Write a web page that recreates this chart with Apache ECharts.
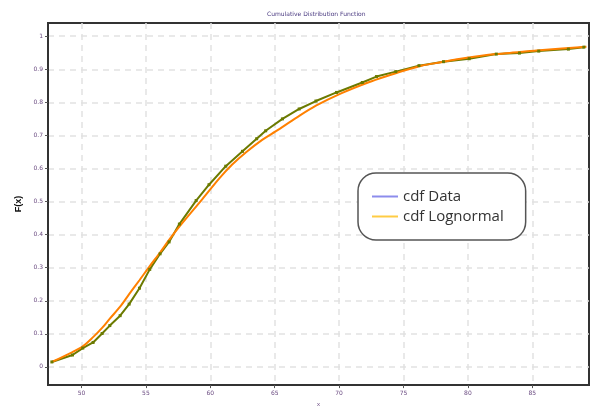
<!DOCTYPE html>
<html>
<head>
<meta charset="utf-8">
<script src="https://cdn.jsdelivr.net/npm/echarts@6/dist/echarts.min.js"></script>
<style>
  html, body { margin: 0; padding: 0; background: #fff; }
  #chart { width: 592px; height: 412px; }
</style>
</head>
<body>
<div id="chart"></div>
<script>
// tick labels
const xTicks = [50, 55, 60, 65, 70, 75, 80, 85]
const yTicks = [0, 0.1, 0.2, 0.3, 0.4, 0.5, 0.6, 0.7, 0.8, 0.9, 1]

const dataX = [47.7, 49.3, 50.1, 50.9, 51.6, 52.2, 53.0, 53.7, 54.5, 55.3, 56.1, 56.8, 57.6, 58.9, 59.9,
  61.2, 62.5, 63.6, 64.3, 65.6, 66.9, 68.2, 69.8, 71.8, 72.9, 74.4, 76.2, 78.1, 80.1, 82.2, 84.0, 85.5, 87.8, 89.0]
const dataF = [0.015, 0.036, 0.057, 0.074, 0.101, 0.125, 0.155, 0.190, 0.238, 0.295, 0.342, 0.378, 0.432, 0.503, 0.551,
  0.607, 0.652, 0.690, 0.714, 0.750, 0.780, 0.804, 0.830, 0.860, 0.878, 0.893, 0.911, 0.923, 0.932, 0.946, 0.949, 0.955, 0.961, 0.967]

// fitted lognormal cdf
const lognX = [47.7, 49.3, 50.1, 50.9, 51.6, 52.2, 53.0, 53.7, 54.5, 55.3, 56.1, 56.8, 57.6, 59.4, 60.7, 61.7,
  62.8, 64.0, 65.1, 66.7, 68.2, 70.2, 72.3, 73.9, 75.2, 76.4, 78.0, 79.3, 80.9, 82.2, 84.0, 85.3, 87.3, 89.2]
const lognF = [0.015, 0.045, 0.062, 0.090, 0.118, 0.146, 0.182, 0.220, 0.262, 0.305, 0.346, 0.384, 0.424, 0.508, 0.570, 0.612,
  0.650, 0.686, 0.713, 0.754, 0.790, 0.828, 0.861, 0.882, 0.898, 0.911, 0.922, 0.931, 0.940, 0.946, 0.952, 0.957, 0.963, 0.968]

const pairs = (xs, ys) => xs.map((x, i) => [x, ys[i]])

const chart = echarts.init(document.getElementById('chart'))
const tickLabel = { fontSize: 6, color: '#6a4a80', fontFamily: 'DejaVu Sans' }

const option = {
  animation: false,
  title: {
    text: 'Cumulative Distribution Function',
    left: 262,
    top: 6,
    textStyle: { fontSize: 6, fontWeight: 'normal', color: '#4a3a80', fontFamily: 'DejaVu Sans' }
  },
  grid: {
    left: 48, right: 3, top: 23, bottom: 22,
    show: true, borderColor: '#333', borderWidth: 2
  },
  legend: {
    orient: 'vertical',
    left: 358,
    top: 173,
    padding: [16, 22, 16, 14],
    itemGap: 5,
    itemWidth: 26,
    itemHeight: 2,
    icon: 'rect',
    backgroundColor: '#fff',
    borderColor: '#555',
    borderWidth: 1.5,
    borderRadius: 18,
    textStyle: { fontSize: 15, color: '#333', fontFamily: 'Open Sans' },
    data: [
      { name: 'cdf Data', itemStyle: { color: '#8c8cec' } },
      { name: 'cdf Lognormal', itemStyle: { color: '#ffcc44' } }
    ]
  },
  xAxis: {
    type: 'value',
    min: 47.4,
    max: 89.4,
    name: 'x',
    nameLocation: 'middle',
    nameGap: 14,
    nameTextStyle: { fontSize: 6, color: '#6a4a80' },
    axisLine: { onZero: false, lineStyle: { color: '#333', width: 2 } },
    axisTick: { show: true, length: 3, customValues: xTicks, lineStyle: { color: '#555' } },
    axisLabel: Object.assign({ customValues: xTicks, margin: 5 }, tickLabel),
    splitLine: { show: true, lineStyle: { color: '#e2e2e2', type: [6, 5], width: 1.5 } }
  },
  yAxis: {
    type: 'value',
    min: -0.055,
    max: 1.04,
    name: 'F(x)',
    nameLocation: 'middle',
    nameGap: 24,
    nameTextStyle: { fontSize: 9, fontWeight: 'bold', color: '#111' },
    axisLine: { show: true, onZero: false, lineStyle: { color: '#333', width: 2 } },
    axisTick: { show: true, length: 3, customValues: yTicks, lineStyle: { color: '#555' } },
    axisLabel: Object.assign({ customValues: yTicks, margin: 5 }, tickLabel),
    splitLine: { show: true, lineStyle: { color: '#e2e2e2', type: [6, 5], width: 1.5 } }
  },
  series: [
    {
      name: 'cdf Data',
      type: 'line',
      data: pairs(dataX, dataF),
      symbol: 'rect',
      symbolSize: 3,
      showSymbol: true,
      lineStyle: { color: '#6b7a00', width: 2 },
      itemStyle: { color: '#6b7a00' }
    },
    {
      name: 'cdf Lognormal',
      type: 'line',
      data: pairs(lognX, lognF),
      showSymbol: false,
      smooth: 0.3,
      lineStyle: { color: '#ff8000', width: 2 },
      itemStyle: { color: '#ff8000' }
    }
  ]
}

chart.setOption(option)
</script>
</body>
</html>
